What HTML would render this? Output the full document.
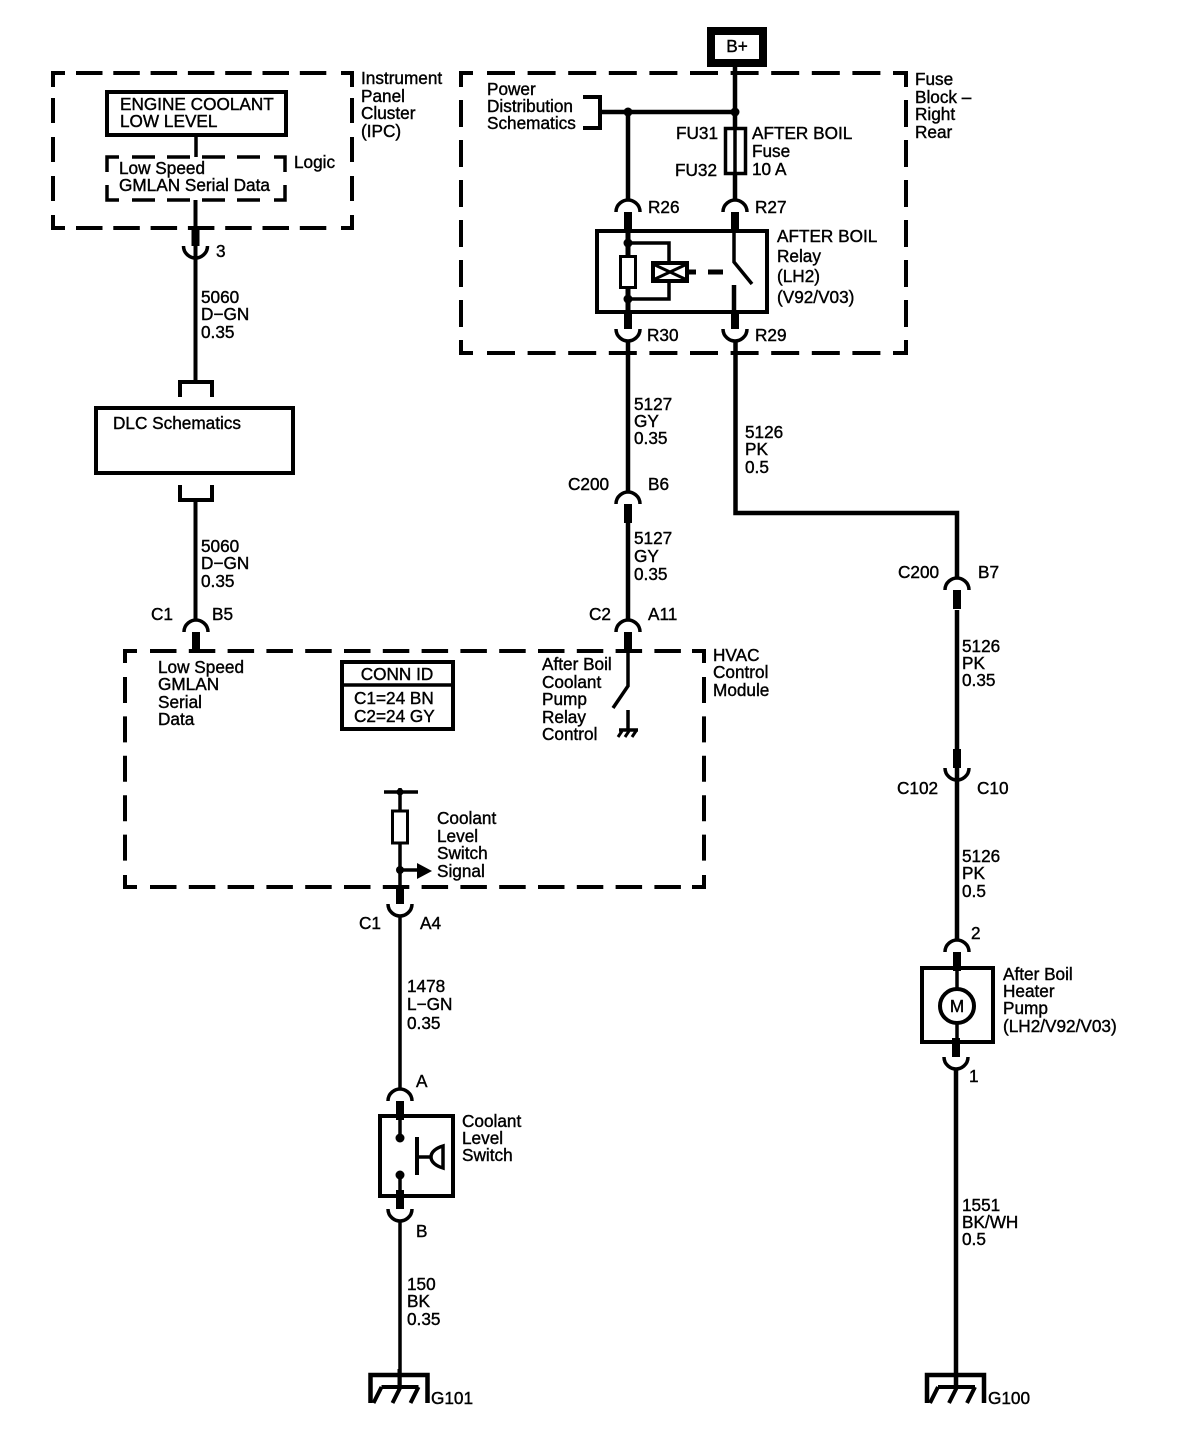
<!DOCTYPE html>
<html><head><meta charset="utf-8"><style>
html,body{margin:0;padding:0;background:#fff}
svg{display:block}
text{font-family:"Liberation Sans",sans-serif;font-size:17.2px;fill:#000;stroke:#000;stroke-width:.4}
.w{fill:none;stroke:#000;stroke-width:4.5}
.t{fill:none;stroke:#000;stroke-width:3.5}
.b{fill:none;stroke:#000;stroke-width:4}
.d{fill:none;stroke:#000;stroke-width:4}
</style></head><body>
<svg width="1200" height="1440" viewBox="0 0 1200 1440" xmlns="http://www.w3.org/2000/svg">
<defs>
<g id="cu"><path d="M-12 12C-12 4-5 0 0 0C5 0 12 4 12 12" fill="none" stroke="#000" stroke-width="3.5"/><rect x="-4" y="12" width="8" height="19"/></g>
<g id="cd"><path d="M-12-12C-12-4-5 0 0 0C5 0 12-4 12-12" fill="none" stroke="#000" stroke-width="3.5"/><rect x="-4" y="-31" width="8" height="19"/></g>
<g id="gnd"><path d="M-29 30V2H28V30" fill="none" stroke="#000" stroke-width="4.500"/><path d="M0-4V14M-18 14H19M-18 14L-26 30M1 14L-7 30M19 14L11 30" fill="none" stroke="#000" stroke-width="4"/></g>
</defs>

<!-- dashed box: IPC -->
<g class="d">
<path class="d" d="M53 87V73H65M341 73H352V87M53 215V228H65M341 228H352V215"/>
<path class="d" d="M76 73H330M76 228H330" stroke-dasharray="26.500 10.800"/>
<path class="d" d="M53 98V205M352 98V205" stroke-dasharray="25 14"/>
</g>
<!-- dashed box: fuse block -->
<path class="d" d="M461 87V73H473M893 73H906V87M461 340V353H473M893 353H906V340"/>
<path class="d" d="M487 73H882M487 353H882" stroke-dasharray="28 12.600"/>
<path class="d" d="M461 100V328M906 100V328" stroke-dasharray="27 13"/>
<!-- dashed box: HVAC -->
<path class="d" d="M125 663V651H137M692 651H704V663M125 875V887H137M692 887H704V875"/>
<path class="d" d="M150 651H682M150 887H682" stroke-dasharray="26.500 12.300"/>
<path class="d" d="M125 677V862M704 677V862" stroke-dasharray="26 13.400"/>

<!-- IPC -->
<rect class="b" x="107" y="92" width="179" height="43"/>
<path class="t" d="M196 135V157"/>
<path d="M107 172V157H119M274 157H285V172M107 185V200H119M274 200H285V185" fill="none" stroke="#000" stroke-width="3.500"/>
<path d="M132 157H268M132 200H268" fill="none" stroke="#000" stroke-width="3.500" stroke-dasharray="23 12"/>
<path class="t" d="M195.500 200V258" style="stroke-width:4"/>
<path class="t" d="M195.500 258V381" style="stroke-width:4"/>
<use href="#cd" x="195.500" y="258"/>
<text x="120" y="110">ENGINE COOLANT</text>
<text x="120" y="127">LOW LEVEL</text>
<text x="119" y="174">Low Speed</text>
<text x="119" y="191">GMLAN Serial Data</text>
<text x="294" y="168">Logic</text>
<text x="361" y="84">Instrument</text>
<text x="361" y="102">Panel</text>
<text x="361" y="119">Cluster</text>
<text x="361" y="137">(IPC)</text>
<text x="216" y="257">3</text>
<text x="201" y="303">5060</text>
<text x="201" y="320">D&#8722;GN</text>
<text x="201" y="338">0.35</text>

<!-- DLC -->
<path class="b" d="M180 397V382H212V397"/>
<rect class="b" x="96" y="408" width="197" height="65"/>
<path class="b" d="M180 485V500H212V485"/>
<path class="t" d="M195.500 500V620" style="stroke-width:4"/>
<text x="113" y="429">DLC Schematics</text>
<text x="201" y="552">5060</text>
<text x="201" y="569">D&#8722;GN</text>
<text x="201" y="587">0.35</text>
<text x="151" y="620">C1</text>
<text x="212" y="620">B5</text>
<use href="#cu" x="196" y="620"/>

<!-- Top right -->
<rect x="711" y="31" width="52" height="32" fill="none" stroke="#000" stroke-width="8"/>
<text x="737" y="52" text-anchor="middle">B+</text>
<path class="w" d="M735 63V200M628 112V200M600 112H735"/>
<circle cx="735" cy="112" r="4.500"/><circle cx="628" cy="112" r="4.500"/>
<path class="b" d="M583 97H600V128H583"/>
<rect x="725.500" y="128.500" width="20" height="45" fill="#fff" stroke="#000" stroke-width="3.500"/>
<path class="t" d="M735 128V173"/>
<text x="487" y="95">Power</text>
<text x="487" y="112">Distribution</text>
<text x="487" y="129">Schematics</text>
<text x="676" y="139">FU31</text>
<text x="675" y="176">FU32</text>
<text x="752" y="139">AFTER BOIL</text>
<text x="752" y="157">Fuse</text>
<text x="752" y="175">10 A</text>
<text x="915" y="85">Fuse</text>
<text x="915" y="103">Block &#8211;</text>
<text x="915" y="120">Right</text>
<text x="915" y="138">Rear</text>

<!-- Relay -->
<use href="#cu" x="628" y="200"/>
<use href="#cu" x="735" y="200"/>
<rect class="b" x="597" y="231" width="170" height="81"/>
<path d="M628 231V320" fill="none" stroke="#000" stroke-width="5"/>
<rect x="620.500" y="256.500" width="15" height="31" fill="#fff" stroke="#000" stroke-width="3"/>
<circle cx="628" cy="243" r="4.500"/><circle cx="628" cy="299" r="4.500"/>
<path class="t" d="M628 243H669V263M669 281V299H628"/>
<rect x="653" y="263" width="34" height="18" fill="#fff" stroke="#000" stroke-width="4"/>
<path d="M655 265L685 279M655 279L685 265" fill="none" stroke="#000" stroke-width="3"/>
<path d="M687 272H696M708 272H723" fill="none" stroke="#000" stroke-width="5"/>
<path class="t" d="M734 231V262L752 284"/>
<path class="w" d="M734 285V312"/>
<use href="#cd" x="628" y="341"/>
<use href="#cd" x="735" y="341"/>
<text x="648" y="213">R26</text>
<text x="755" y="213">R27</text>
<text x="647" y="341">R30</text>
<text x="755" y="341">R29</text>
<text x="777" y="242">AFTER BOIL</text>
<text x="777" y="262">Relay</text>
<text x="777" y="282">(LH2)</text>
<text x="777" y="303">(V92/V03)</text>

<!-- Center wire -->
<path class="w" d="M628 341V492M628 520V620"/>
<use href="#cu" x="628" y="492"/>
<use href="#cu" x="628" y="620"/>
<text x="634" y="410">5127</text>
<text x="634" y="427">GY</text>
<text x="634" y="444">0.35</text>
<text x="568" y="490">C200</text>
<text x="648" y="490">B6</text>
<text x="634" y="544">5127</text>
<text x="634" y="562">GY</text>
<text x="634" y="580">0.35</text>
<text x="589" y="620">C2</text>
<text x="648" y="620">A11</text>

<!-- Right wire -->
<path class="w" d="M735.500 341V513H957V578M957 610V780M957 780V940"/>
<use href="#cu" x="957" y="578"/>
<use href="#cd" x="957" y="780"/>
<use href="#cu" x="957" y="940"/>
<text x="745" y="438">5126</text>
<text x="745" y="455">PK</text>
<text x="745" y="473">0.5</text>
<text x="898" y="578">C200</text>
<text x="978" y="578">B7</text>
<text x="962" y="652">5126</text>
<text x="962" y="669">PK</text>
<text x="962" y="686">0.35</text>
<text x="897" y="794">C102</text>
<text x="977" y="794">C10</text>
<text x="962" y="862">5126</text>
<text x="962" y="879">PK</text>
<text x="962" y="897">0.5</text>
<text x="971" y="939">2</text>

<!-- Motor -->
<rect class="b" x="922" y="968" width="71" height="74"/>
<path class="t" d="M957 968V1042"/>
<circle cx="957" cy="1006" r="17" fill="#fff" stroke="#000" stroke-width="4"/>
<text x="957" y="1012" text-anchor="middle">M</text>
<use href="#cd" x="956" y="1069"/>
<path class="w" d="M956 1069V1387"/>
<text x="1003" y="980">After Boil</text>
<text x="1003" y="997">Heater</text>
<text x="1003" y="1014">Pump</text>
<text x="1003" y="1032">(LH2/V92/V03)</text>
<text x="969" y="1082">1</text>
<text x="962" y="1211">1551</text>
<text x="962" y="1228">BK/WH</text>
<text x="962" y="1245">0.5</text>
<use href="#gnd" x="956" y="1373"/>
<text x="988" y="1404">G100</text>

<!-- HVAC contents -->
<text x="158" y="673">Low Speed</text>
<text x="158" y="690">GMLAN</text>
<text x="158" y="708">Serial</text>
<text x="158" y="725">Data</text>
<rect class="b" x="342" y="662" width="111" height="67"/>
<path class="t" d="M342 685H453"/>
<text x="397" y="680" text-anchor="middle">CONN ID</text>
<text x="354" y="704">C1=24 BN</text>
<text x="354" y="722">C2=24 GY</text>
<text x="542" y="670">After Boil</text>
<text x="542" y="688">Coolant</text>
<text x="542" y="705">Pump</text>
<text x="542" y="723">Relay</text>
<text x="542" y="740">Control</text>
<text x="713" y="661">HVAC</text>
<text x="713" y="678">Control</text>
<text x="713" y="696">Module</text>
<path class="t" d="M628 650V686L613 708"/>
<path class="t" d="M628 710V731M619 730H638"/>
<path d="M622 731L618 737M629 731L625 737M636 731L632 737" fill="none" stroke="#000" stroke-width="3"/>

<path class="t" d="M384 792H418M400 788V887"/>
<circle cx="400" cy="792" r="3.500"/>
<rect x="392.500" y="811" width="15" height="32" fill="#fff" stroke="#000" stroke-width="3"/>
<circle cx="400" cy="870" r="4"/>
<path class="t" d="M400 870H418"/>
<path d="M417 863L432 871L417 879Z"/>
<text x="437" y="824">Coolant</text>
<text x="437" y="842">Level</text>
<text x="437" y="859">Switch</text>
<text x="437" y="877">Signal</text>
<use href="#cd" x="400" y="916"/>
<path class="t" d="M400 916V1090"/>
<text x="359" y="929">C1</text>
<text x="420" y="929">A4</text>
<text x="407" y="992">1478</text>
<text x="407" y="1010">L&#8722;GN</text>
<text x="407" y="1029">0.35</text>

<!-- Switch -->
<use href="#cu" x="400" y="1089"/>
<text x="416" y="1087">A</text>
<rect class="b" x="380" y="1116" width="73" height="80"/>
<path class="t" d="M400 1116V1138M400 1175V1196"/>
<circle cx="400" cy="1138" r="4.500"/><circle cx="400" cy="1175" r="4.500"/>
<path class="b" d="M417 1137V1175"/>
<path class="t" d="M417 1157H431"/>
<path d="M443 1146C436 1148 431 1152 431 1157C431 1162 436 1166 443 1168Z" fill="#fff" stroke="#000" stroke-width="3.500"/>
<use href="#cd" x="400" y="1221"/>
<path class="t" d="M400 1221V1387"/>
<text x="462" y="1127">Coolant</text>
<text x="462" y="1144">Level</text>
<text x="462" y="1161">Switch</text>
<text x="416" y="1237">B</text>
<text x="407" y="1290">150</text>
<text x="407" y="1307">BK</text>
<text x="407" y="1325">0.35</text>
<use href="#gnd" x="399.500" y="1373"/>
<text x="431" y="1404">G101</text>
</svg>
</body></html>
